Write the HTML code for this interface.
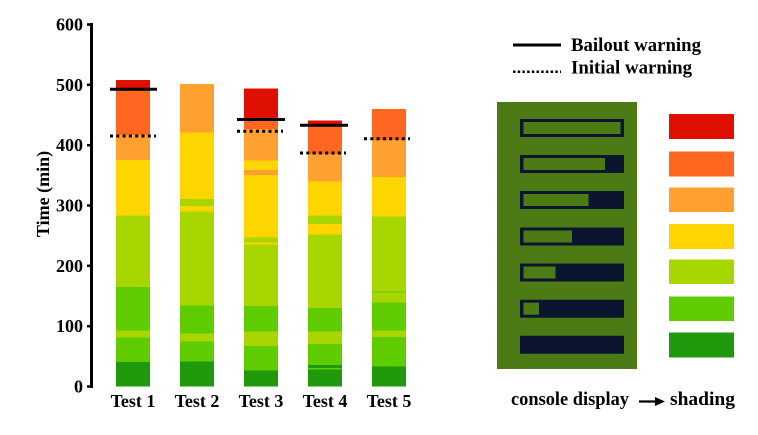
<!DOCTYPE html>
<html><head><meta charset="utf-8"><style>
html,body{margin:0;padding:0;background:#fff;}
svg{display:block;}
text{font-family:"Liberation Serif","Times New Roman",serif;font-weight:bold;fill:#000;}
</style></head><body>
<svg width="758" height="435" viewBox="0 0 758 435" xmlns="http://www.w3.org/2000/svg">
<rect width="758" height="435" fill="#fff"/>
<!-- Bars -->
<g shape-rendering="crispEdges">
<!-- Test 1 -->
<rect x="116" y="80" width="34" height="8.5" fill="#e01000"/>
<rect x="116" y="88.5" width="34" height="46.5" fill="#ff6620"/>
<rect x="116" y="135" width="34" height="25" fill="#ffa030"/>
<rect x="116" y="160" width="34" height="55.5" fill="#ffd500"/>
<rect x="116" y="215.5" width="34" height="71.5" fill="#a8d600"/>
<rect x="116" y="287" width="34" height="43.7" fill="#5ecc00"/>
<rect x="116" y="330.7" width="34" height="7" fill="#a8d600"/>
<rect x="116" y="337.7" width="34" height="24.3" fill="#5ecc00"/>
<rect x="116" y="362" width="34" height="24.5" fill="#20980c"/>
<!-- Test 2 -->
<rect x="180" y="84" width="34" height="48.7" fill="#ffa030"/>
<rect x="180" y="132.7" width="34" height="66.3" fill="#ffd500"/>
<rect x="180" y="199" width="34" height="7" fill="#a8d600"/>
<rect x="180" y="206" width="34" height="5.7" fill="#ffd500"/>
<rect x="180" y="211.7" width="34" height="94" fill="#a8d600"/>
<rect x="180" y="305.7" width="34" height="27.6" fill="#5ecc00"/>
<rect x="180" y="333.3" width="34" height="8.4" fill="#a8d600"/>
<rect x="180" y="341.7" width="34" height="19.6" fill="#5ecc00"/>
<rect x="180" y="361.3" width="34" height="25.2" fill="#20980c"/>
<!-- Test 3 -->
<rect x="244" y="88.7" width="34" height="31.3" fill="#e01000"/>
<rect x="244" y="120" width="34" height="9" fill="#ff6620"/>
<rect x="244" y="129" width="34" height="31.7" fill="#ffa030"/>
<rect x="244" y="160.7" width="34" height="9.3" fill="#ffd500"/>
<rect x="244" y="170" width="34" height="5" fill="#ffa030"/>
<rect x="244" y="175" width="34" height="62.7" fill="#ffd500"/>
<rect x="244" y="237.7" width="34" height="4.6" fill="#a8d600"/>
<rect x="244" y="242.3" width="34" height="2" fill="#ffd500"/>
<rect x="244" y="244.3" width="34" height="61.7" fill="#a8d600"/>
<rect x="244" y="306" width="34" height="25.7" fill="#5ecc00"/>
<rect x="244" y="331.7" width="34" height="14.3" fill="#a8d600"/>
<rect x="244" y="346" width="34" height="24.7" fill="#5ecc00"/>
<rect x="244" y="370.7" width="34" height="15.8" fill="#20980c"/>
<!-- Test 4 -->
<rect x="308" y="120.7" width="34" height="4.3" fill="#e01000"/>
<rect x="308" y="125" width="34" height="29" fill="#ff6620"/>
<rect x="308" y="154" width="34" height="27.3" fill="#ffa030"/>
<rect x="308" y="181.3" width="34" height="34.4" fill="#ffd500"/>
<rect x="308" y="215.7" width="34" height="8.3" fill="#a8d600"/>
<rect x="308" y="224" width="34" height="10.3" fill="#ffd500"/>
<rect x="308" y="234.3" width="34" height="73.7" fill="#a8d600"/>
<rect x="308" y="308" width="34" height="23.7" fill="#5ecc00"/>
<rect x="308" y="331.7" width="34" height="12.3" fill="#a8d600"/>
<rect x="308" y="344" width="34" height="21" fill="#5ecc00"/>
<rect x="308" y="365" width="34" height="3" fill="#20980c"/>
<rect x="308" y="368" width="34" height="1.5" fill="#5ecc00"/>
<rect x="308" y="369.5" width="34" height="17" fill="#20980c"/>
<!-- Test 5 -->
<rect x="372" y="109" width="34" height="31" fill="#ff6620"/>
<rect x="372" y="140" width="34" height="37" fill="#ffa030"/>
<rect x="372" y="177" width="34" height="39.3" fill="#ffd500"/>
<rect x="372" y="216.3" width="34" height="75.2" fill="#a8d600"/>
<rect x="372" y="291.5" width="34" height="1" fill="#5ecc00"/>
<rect x="372" y="292.5" width="34" height="10.2" fill="#a8d600"/>
<rect x="372" y="302.7" width="34" height="28" fill="#5ecc00"/>
<rect x="372" y="330.7" width="34" height="6.3" fill="#a8d600"/>
<rect x="372" y="337" width="34" height="29.7" fill="#5ecc00"/>
<rect x="372" y="366.7" width="34" height="19.8" fill="#20980c"/>
</g>
<!-- Warning lines -->
<g stroke="#000" stroke-width="3">
<line x1="110" y1="89.3" x2="157" y2="89.3"/>
<line x1="237" y1="119.5" x2="285" y2="119.5"/>
<line x1="300" y1="125.3" x2="348" y2="125.3"/>
</g>
<g stroke="#000" stroke-width="3" stroke-dasharray="3,3.3">
<line x1="110" y1="136" x2="156" y2="136"/>
<line x1="237" y1="131.3" x2="283" y2="131.3"/>
<line x1="300" y1="153" x2="346" y2="153"/>
<line x1="364" y1="138.7" x2="410" y2="138.7"/>
</g>
<!-- Axis -->
<g stroke="#000" stroke-width="3">
<line x1="91.5" y1="23" x2="91.5" y2="388"/>
</g>
<g stroke="#000" stroke-width="2.5">
<line x1="87" y1="386.5" x2="92" y2="386.5"/>
<line x1="87" y1="326.2" x2="92" y2="326.2"/>
<line x1="87" y1="265.8" x2="92" y2="265.8"/>
<line x1="87" y1="205.5" x2="92" y2="205.5"/>
<line x1="87" y1="145.2" x2="92" y2="145.2"/>
<line x1="87" y1="84.8" x2="92" y2="84.8"/>
<line x1="87" y1="24.5" x2="92" y2="24.5"/>
</g>
<g font-size="18" text-anchor="end">
<text x="83" y="392.5">0</text>
<text x="83" y="332.2">100</text>
<text x="83" y="271.8">200</text>
<text x="83" y="211.5">300</text>
<text x="83" y="151.2">400</text>
<text x="83" y="90.8">500</text>
<text x="83" y="30.5">600</text>
</g>
<text font-size="18" text-anchor="middle" transform="translate(49,194) rotate(-90)">Time (min)</text>
<g font-size="18" text-anchor="middle">
<text x="133" y="407">Test 1</text>
<text x="197" y="407">Test 2</text>
<text x="261" y="407">Test 3</text>
<text x="325" y="407">Test 4</text>
<text x="389" y="407">Test 5</text>
</g>
<!-- Legend -->
<line x1="513" y1="45" x2="561" y2="45" stroke="#000" stroke-width="3"/>
<line x1="513" y1="71.7" x2="561" y2="71.7" stroke="#000" stroke-width="2.5" stroke-dasharray="2.5,2.2"/>
<text x="571" y="51" font-size="19" textLength="130" lengthAdjust="spacingAndGlyphs">Bailout warning</text>
<text x="571" y="73.5" font-size="19" textLength="121" lengthAdjust="spacingAndGlyphs">Initial warning</text>
<!-- Console display -->
<rect x="497" y="102" width="140" height="267" fill="#4c7a14"/>
<g fill="#0c1530">
<rect x="520" y="119" width="104" height="18" rx="1"/>
<rect x="520" y="155" width="104" height="18" rx="1"/>
<rect x="520" y="191" width="104" height="18" rx="1"/>
<rect x="520" y="227.5" width="104" height="18" rx="1"/>
<rect x="520" y="263.5" width="104" height="18" rx="1"/>
<rect x="520" y="299.7" width="104" height="18" rx="1"/>
<rect x="520" y="335.7" width="104" height="18" rx="1"/>
</g>
<g fill="#4c7a14">
<rect x="523.5" y="122" width="97" height="12"/>
<rect x="523.5" y="158" width="81.5" height="12"/>
<rect x="523.5" y="194" width="65" height="12"/>
<rect x="523.5" y="230.5" width="48.5" height="12"/>
<rect x="523.5" y="266.5" width="32" height="12"/>
<rect x="523.5" y="302.7" width="15.5" height="12"/>
</g>
<!-- Shading swatches -->
<g shape-rendering="crispEdges">
<rect x="669" y="114" width="65" height="25" fill="#e01000"/>
<rect x="669" y="151.5" width="65" height="25" fill="#ff6620"/>
<rect x="669" y="187.5" width="65" height="24.5" fill="#ffa030"/>
<rect x="669" y="224" width="65" height="25" fill="#ffd500"/>
<rect x="669" y="259.7" width="65" height="24.5" fill="#a8d600"/>
<rect x="669" y="296.7" width="65" height="24.5" fill="#5ecc00"/>
<rect x="669" y="332.3" width="65" height="25" fill="#20980c"/>
</g>
<!-- Bottom caption -->
<text x="511" y="405" font-size="19" textLength="118" lengthAdjust="spacingAndGlyphs">console display</text>
<line x1="639" y1="401.5" x2="657" y2="401.5" stroke="#000" stroke-width="2.2"/>
<polygon points="655,397 665,401.5 655,406" fill="#000"/>
<text x="670" y="405" font-size="19" textLength="65" lengthAdjust="spacingAndGlyphs">shading</text>
</svg>
</body></html>
